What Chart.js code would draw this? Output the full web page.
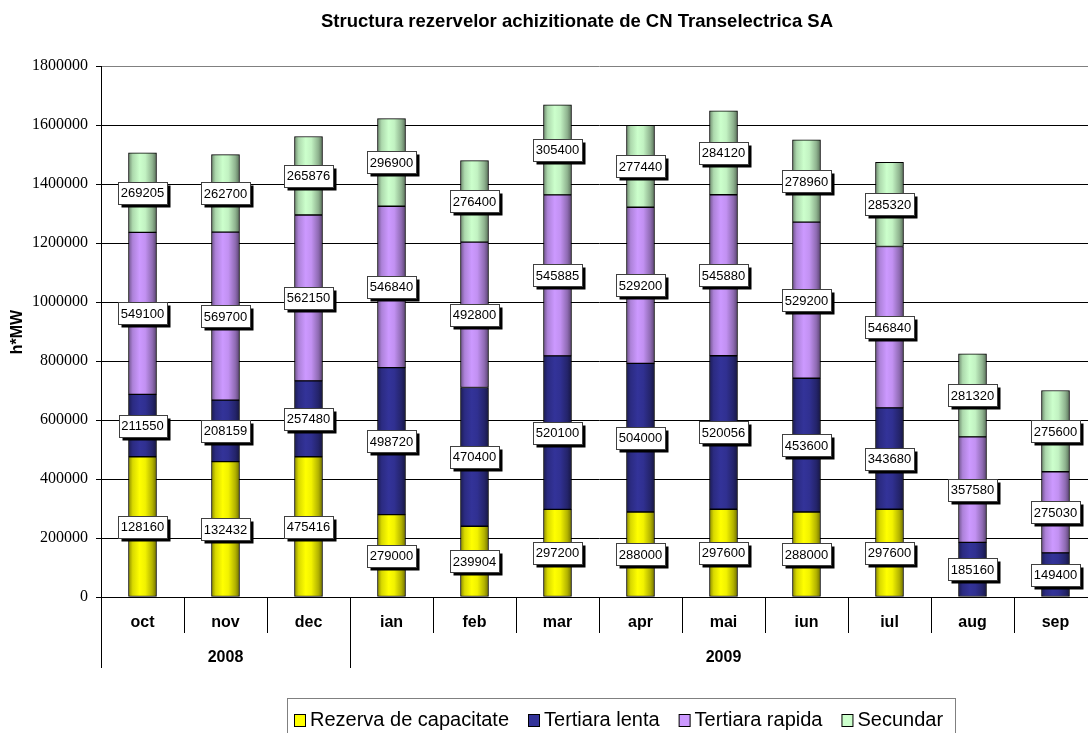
<!DOCTYPE html>
<html lang="ro">
<head>
<meta charset="UTF-8">
<title>Structura rezervelor</title>
<script src="https://cdn.jsdelivr.net/npm/chart.js"></script>
<style>
  html, body { margin: 0; padding: 0; background: #fff; overflow: hidden; }
  #wrap { width: 1100px; height: 733px; }
</style>
</head>
<body>
<div id="wrap"><canvas id="chart" width="1100" height="733"></canvas></div>

<script>
const luni = ['oct', 'nov', 'dec', 'ian', 'feb', 'mar', 'apr', 'mai', 'iun', 'iul', 'aug', 'sep'];
const ani = ['2008', '2009'];
const luniPeAn = [3, 9];
const titlu = 'Structura rezervelor achizitionate de CN Transelectrica SA';
const titluAxaY = 'h*MW';
const serii = ['Rezerva de capacitate', 'Tertiara lenta', 'Tertiara rapida', 'Secundar'];

// inaltimea barelor galbene; la oct si nov eticheta din grafic nu corespunde barei
const rezerva = [475400, 459000, 475416, 279000, 239904, 297200, 288000, 297600, 288000, 297600, null, null];
const rezervaEtichete = [128160, 132432, 475416, 279000, 239904, 297200, 288000, 297600, 288000, 297600, null, null];
const tertiaraLenta = [211550, 208159, 257480, 498720, 470400, 520100, 504000, 520056, 453600, 343680, 185160, 149400];
const tertiaraRapida = [549100, 569700, 562150, 546840, 492800, 545885, 529200, 545880, 529200, 546840, 357580, 275030];
const secundar = [269205, 262700, 265876, 296900, 276400, 305400, 277440, 284120, 278960, 285320, 281320, 275600];

const culori = ['#FFFF00', '#333399', '#CC99FF', '#CCFFCC'];
const FONT = '"Liberation Sans", Arial, sans-serif';
const SERIF = '"Liberation Serif", "Times New Roman", serif';

function umbra(hex, f) {
    const n = parseInt(hex.slice(1), 16);
    const r = Math.round(((n >> 16) & 255) * f);
    const g = Math.round(((n >> 8) & 255) * f);
    const b = Math.round((n & 255) * f);
    return 'rgb(' + r + ',' + g + ',' + b + ')';
}

// umplere tip cilindru (gradient orizontal pe fiecare bara)
function cilindru(hex) {
    return function (ctx) {
        const chart = ctx.chart;
        if (!chart.chartArea || ctx.type !== 'data') return hex;
        const x = chart.scales.x.getPixelForValue(ctx.dataIndex);
        const g = chart.ctx.createLinearGradient(x - 14, 0, x + 14, 0);
        g.addColorStop(0, umbra(hex, 0.55));
        g.addColorStop(0.15, umbra(hex, 0.85));
        g.addColorStop(0.4, hex);
        g.addColorStop(0.6, umbra(hex, 0.95));
        g.addColorStop(0.85, umbra(hex, 0.7));
        g.addColorStop(1, umbra(hex, 0.45));
        return g;
    };
}

function setDate(label, data, etichete, culoare) {
    return {
        label: label,
        data: data,
        etichete: etichete,
        backgroundColor: cilindru(culoare),
        borderColor: '#000',
        borderWidth: 1,
        borderSkipped: false,
        barThickness: 28
    };
}

function linie(c, x1, y1, x2, y2) {
    c.beginPath();
    c.moveTo(x1, y1);
    c.lineTo(x2, y2);
    c.stroke();
}

const desen = {
    id: 'desen',
    afterDatasetsDraw(chart) {
        const c = chart.ctx;
        c.save();
        c.font = '13px ' + FONT;
        c.textAlign = 'center';
        c.textBaseline = 'middle';
        chart.data.datasets.forEach((ds, di) => {
            const meta = chart.getDatasetMeta(di);
            meta.data.forEach((el, i) => {
                const v = ds.etichete[i];
                if (v == null) return;
                const p = el.getProps(['x', 'y', 'base'], true);
                const cy = (p.y + p.base) / 2;
                const t = String(v);
                const w = Math.round(c.measureText(t).width) + 6, h = 22;
                const x0 = Math.round(p.x - w / 2) + 0.5, y0 = Math.round(cy - h / 2) + 0.5;
                c.fillStyle = '#000';
                c.fillRect(x0 + 3, y0 + 3, w, h);
                c.fillStyle = '#fff';
                c.fillRect(x0, y0, w, h);
                c.strokeStyle = '#404040';
                c.lineWidth = 1;
                c.strokeRect(x0, y0, w, h);
                c.fillStyle = '#000';
                c.fillText(t, p.x, cy + 1);
            });
        });
        c.restore();
    },
    afterDraw(chart) {
        const c = chart.ctx;
        const a = chart.chartArea;
        const n = luni.length;
        const pas = (a.right - a.left) / n;
        c.save();

        // titlu
        c.fillStyle = '#000';
        c.font = 'bold 18.5px ' + FONT;
        c.textAlign = 'center';
        c.textBaseline = 'middle';
        c.fillText(titlu, 577, 22);

        // titlu axa Y
        c.save();
        c.translate(17.5, 332);
        c.rotate(-Math.PI / 2);
        c.font = 'bold 16px ' + FONT;
        c.fillText(titluAxaY, 0, 0);
        c.restore();

        // axa X pe doua nivele
        const granite = [0];
        let k = 0;
        luniPeAn.forEach(m => { k += m; granite.push(k); });
        c.strokeStyle = '#000';
        c.lineWidth = 1;
        for (let i = 0; i <= n; i++) {
            const x = Math.round(a.left + i * pas) + 0.5;
            const lung = granite.includes(i) ? 71 : 36;
            linie(c, x, a.bottom, x, a.bottom + lung);
        }
        c.font = 'bold 16px ' + FONT;
        luni.forEach((l, i) => {
            c.fillText(l, chart.scales.x.getPixelForValue(i), a.bottom + 26);
        });
        ani.forEach((an, j) => {
            const x1 = a.left + granite[j] * pas, x2 = a.left + granite[j + 1] * pas;
            c.fillText(an, (x1 + x2) / 2, a.bottom + 61);
        });

        // legenda
        c.strokeStyle = '#808080';
        c.strokeRect(287.5, 698.5, 668, 60);
        c.font = '20px ' + FONT;
        c.textAlign = 'left';
        c.textBaseline = 'alphabetic';
        let x = 294;
        serii.forEach((s, i) => {
            c.fillStyle = culori[i];
            c.fillRect(x + 0.5, 714.5, 11, 12);
            c.strokeStyle = '#000';
            c.strokeRect(x + 0.5, 714.5, 11, 12);
            c.fillStyle = '#000';
            c.fillText(s, x + 16, 726);
            x += 16 + c.measureText(s).width + 19;
        });
        c.restore();
    }
};

const ctx = document.getElementById('chart');
new Chart(ctx, {
    type: 'bar',
    data: {
        labels: luni,
        datasets: [
            setDate(serii[0], rezerva, rezervaEtichete, culori[0]),
            setDate(serii[1], tertiaraLenta, tertiaraLenta, culori[1]),
            setDate(serii[2], tertiaraRapida, tertiaraRapida, culori[2]),
            setDate(serii[3], secundar, secundar, culori[3])
        ]
    },
    options: {
        responsive: false,
        animation: false,
        layout: { padding: { left: 0, right: 3, top: 66, bottom: 136 } },
        plugins: {
            legend: { display: false },
            title: { display: false },
            tooltip: { enabled: false }
        },
        scales: {
            x: { stacked: true, display: false, offset: true },
            y: {
                stacked: true,
                min: 0,
                max: 1800000,
                ticks: {
                    stepSize: 200000,
                    padding: 8,
                    color: '#000',
                    font: { family: SERIF, size: 16 },
                    callback: v => String(v)
                },
                grid: {
                    color: c => (c.tick && c.tick.value === 1800000 ? '#808080' : '#000'),
                    tickColor: '#000',
                    tickLength: 5
                },
                border: { color: '#000' },
                afterFit(scale) { scale.width = 101; }
            }
        }
    },
    plugins: [desen]
});
</script>
</body>
</html>
